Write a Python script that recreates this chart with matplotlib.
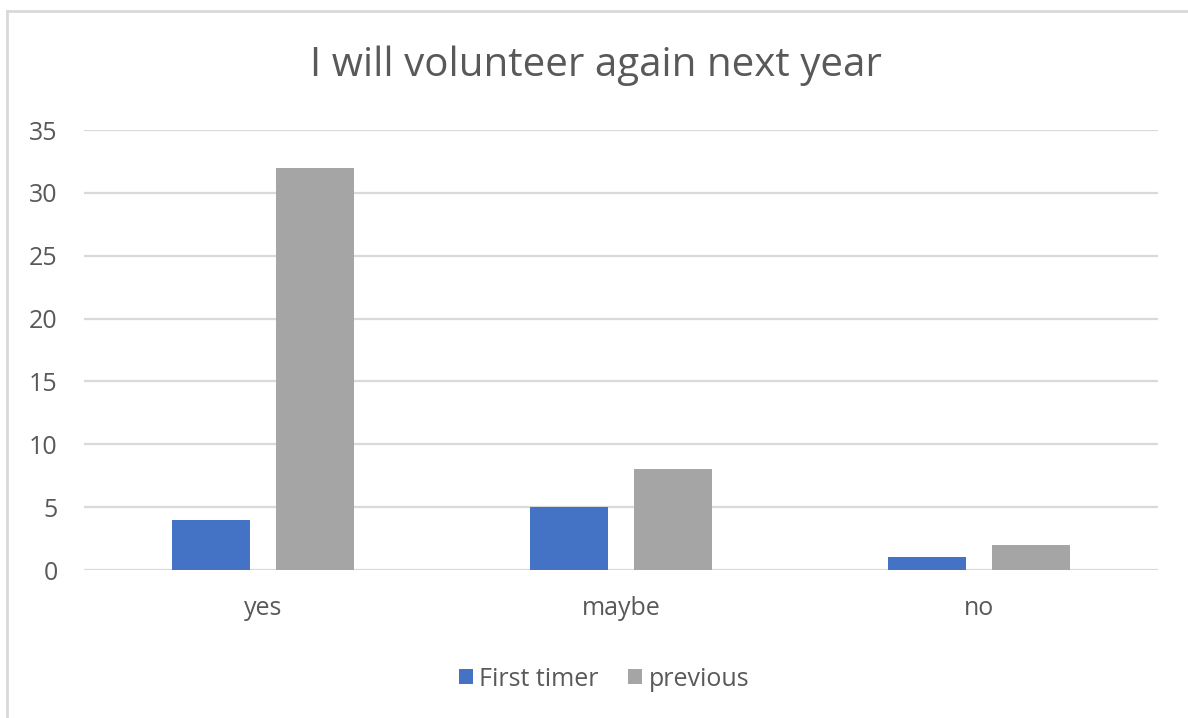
import matplotlib
matplotlib.use("Agg")
import matplotlib.pyplot as plt
from matplotlib.lines import Line2D
import numpy as np

categories = ["yes", "maybe", "no"]
first_timer = [4, 5, 1]
previous = [32, 8, 2]
series_names = ["First timer", "previous"]
y_ticks = [0, 5, 10, 15, 20, 25, 30, 35]
title = "I will volunteer again next year"

BLUE = "#4472C4"
GREY = "#A5A5A5"
TEXT = "#595959"
GRID = "#D9D9D9"

plt.rcParams["font.family"] = ["Open Sans", "DejaVu Sans"]

W, H = 1188, 718
fig = plt.figure(figsize=(W / 100, H / 100), dpi=100)
fig.patch.set_facecolor("white")

ax = fig.add_axes([84 / W, 1 - 570 / H, (1158 - 84) / W, (570 - 130) / H])

x = np.arange(len(categories))
bw = 0.218
gap = 0.07
off = (bw + gap) / 2
ax.bar(x - off, first_timer, bw, color=BLUE, label=series_names[0], zorder=3)
ax.bar(x + off, previous, bw, color=GREY, label=series_names[1], zorder=3)

ax.set_xlim(-0.5, len(categories) - 0.5)
ax.set_ylim(0, 35)
ax.set_yticks(y_ticks)
ax.set_xticks(x)
ax.set_xticklabels(categories)
ax.yaxis.grid(True, color=GRID, linewidth=1.6, zorder=0)
ax.set_axisbelow(True)
for s in ax.spines.values():
    s.set_visible(False)
ax.tick_params(axis="both", length=0, colors=TEXT, labelsize=18)
ax.tick_params(axis="y", pad=19)
ax.tick_params(axis="x", pad=19)

fig.text(596 / W, 1 - 66 / H, title, ha="center", va="center",
         fontsize=29, color=TEXT)

leg = fig.legend(loc="center", bbox_to_anchor=(604 / W, 1 - 679 / H),
                 ncol=2, frameon=False, fontsize=18, labelcolor=TEXT,
                 handlelength=0.55, handleheight=0.55, handletextpad=0.25,
                 columnspacing=1.2)

# thin frame lines along the top and left edges of the chart area
fig.add_artist(Line2D([7 / W, 1], [1 - 11 / H, 1 - 11 / H],
                      transform=fig.transFigure, color="#D9D9D9", lw=2))
fig.add_artist(Line2D([7 / W, 7 / W], [0, 1 - 11 / H],
                      transform=fig.transFigure, color="#D9D9D9", lw=2))

fig.savefig("out.png", dpi=100, facecolor="white")
